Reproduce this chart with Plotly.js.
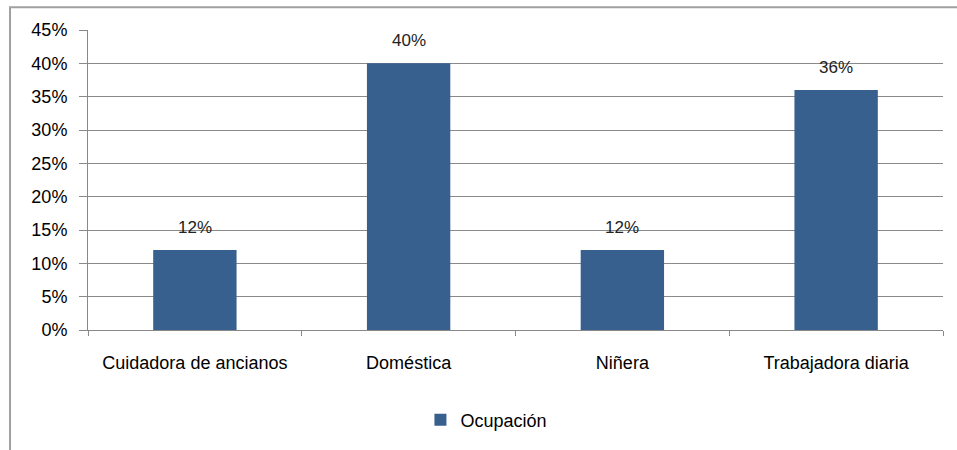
<!DOCTYPE html>
<html><head><meta charset="utf-8">
<script src="https://cdn.plot.ly/plotly-3.0.1.min.js"></script>
<style>body{margin:0;background:#fff}#c{width:957px;height:450px}</style>
</head><body><div id="c"></div>
<script>
const categories = ["Cuidadora de ancianos", "Doméstica", "Niñera", "Trabajadora diaria"];
const values = [0.12, 0.40, 0.12, 0.36];
const seriesName = "Ocupación";
const yTicks = [0, 0.05, 0.10, 0.15, 0.20, 0.25, 0.30, 0.35, 0.40, 0.45];
const yTickLabels = ["0%", "5%", "10%", "15%", "20%", "25%", "30%", "35%", "40%", "45%"];

const FONT = "Liberation Sans, Arial, sans-serif";
const barColor = "#37608f";

const trace = {
  type: "bar", x: categories, y: values, name: seriesName,
  marker: {color: barColor}, width: 0.39, showlegend: true, hoverinfo: "none"
};
const annotations = categories.map((c, i) => ({
  x: c, y: values[i], xref: "x", yref: "y",
  text: Math.round(values[i] * 100) + "%", showarrow: false,
  yanchor: "bottom", yshift: 11, font: {family: FONT, size: 17, color: "#222"}
}));
const layout = {
  width: 957, height: 450,
  margin: {l: 88, r: 14, t: 30, b: 118},
  paper_bgcolor: "#fff", plot_bgcolor: "#fff",
  font: {family: FONT, size: 18, color: "#000"},
  bargap: 0.61,
  xaxis: {
    type: "category", showgrid: false, showline: true, linecolor: "#888", linewidth: 1,
    ticks: "outside", tickson: "boundaries", ticklen: 5, tickcolor: "#888",
    tickfont: {family: FONT, size: 18, color: "#000"}, ticklabelstandoff: 16
  },
  yaxis: {
    range: [0, 0.45], tickvals: yTicks, ticktext: yTickLabels,
    showgrid: true, gridcolor: "#8a8a8a", gridwidth: 1, zeroline: false,
    showline: true, linecolor: "#888", ticks: "outside", ticklen: 8, tickcolor: "#888",
    tickfont: {family: FONT, size: 18, color: "#000"}, ticklabelstandoff: 8
  },
  legend: {orientation: "h", x: 0.466, xanchor: "center", y: -0.3, yanchor: "middle",
    font: {family: FONT, size: 18, color: "#000"}},
  annotations: annotations,
  shapes: [{type: "rect", xref: "paper", yref: "paper", x0: -0.0912, x1: 1.03, y0: -0.45, y1: 1.076,
    line: {color: "#a0a0a0", width: 2}, fillcolor: "rgba(0,0,0,0)", layer: "below"}]
};
Plotly.newPlot("c", [trace], layout, {displayModeBar: false, staticPlot: true});
</script></body></html>
